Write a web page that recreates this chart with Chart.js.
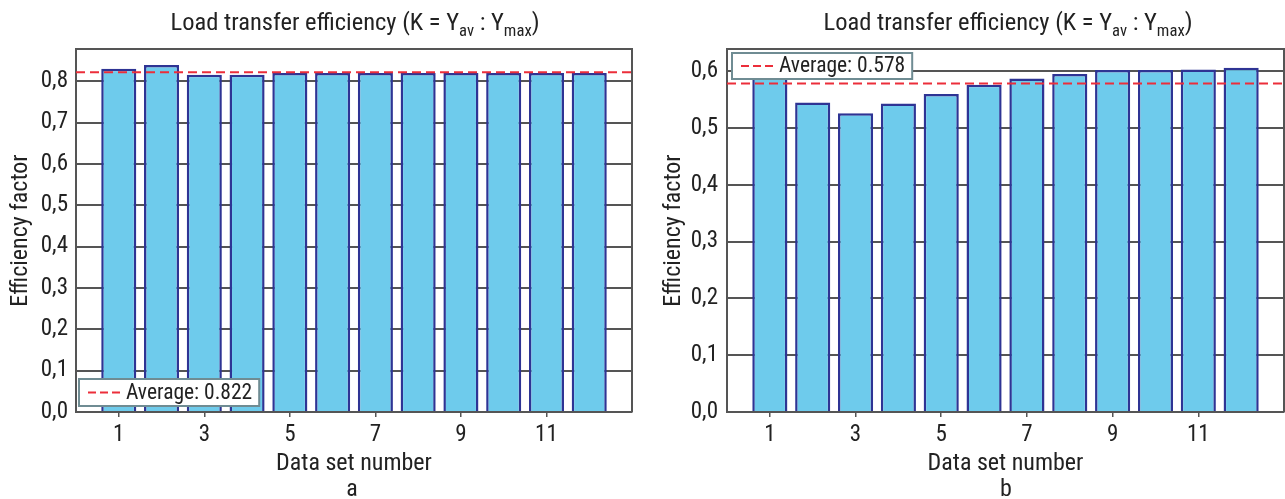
<!DOCTYPE html>
<html>
<head>
<meta charset="utf-8">
<script src="https://cdn.jsdelivr.net/npm/chart.js@4.4.1/dist/chart.umd.min.js"></script>
<style>
  html, body { margin: 0; padding: 0; background: #fff; }
  #wrap { position: relative; width: 1285px; height: 499px; overflow: hidden; }
  canvas { position: absolute; top: 0; }
  .title, .cap {
    position: absolute; transform: translateX(-50%); white-space: nowrap;
    font-family: 'Roboto Condensed', 'Liberation Sans Narrow', 'Arial Narrow', Roboto, sans-serif;
    color: #222;
  }
  .title { top: 7px; font-size: 24.5px; }
  .title sub { font-size: 0.68em; vertical-align: -0.35em; line-height: 0; }
  .cap { top: 474px; font-size: 24px; }
</style>
</head>
<body>
<div id="wrap">
  <canvas id="chartA" width="640" height="499" style="left:0"></canvas>
  <canvas id="chartB" width="645" height="499" style="left:640px"></canvas>
  <div class="title" style="left:355px">Load transfer efficiency (K = Y<sub>av</sub> : Y<sub>max</sub>)</div>
  <div class="title" style="left:1008px">Load transfer efficiency (K = Y<sub>av</sub> : Y<sub>max</sub>)</div>
  <div class="cap" style="left:352px">a</div>
  <div class="cap" style="left:1006px">b</div>
</div>
<script>
const FONT = "'Roboto Condensed', 'Liberation Sans Narrow', 'Arial Narrow', Roboto, sans-serif";
const TEXT = '#222';
const AXIS = '#555';

// data set numbers 1..12
const dataSetNumbers = [1, 2, 3, 4, 5, 6, 7, 8, 9, 10, 11, 12];
const xTickLabels = [1, 3, 5, 7, 9, 11];

// panel a
const efficiencyA = [0.830, 0.839, 0.816, 0.816, 0.820, 0.820, 0.820, 0.820, 0.820, 0.820, 0.820, 0.820];
const yTicksA = [0, 0.1, 0.2, 0.3, 0.4, 0.5, 0.6, 0.7, 0.8];
const yMaxA = 0.878;

// panel b (first bar sits under the legend box)
const efficiencyB = [0.596, 0.545, 0.526, 0.543, 0.560, 0.576, 0.587, 0.595, 0.602, 0.602, 0.603, 0.606];
const yTicksB = [0, 0.1, 0.2, 0.3, 0.4, 0.5, 0.6];
const yMaxB = 0.639;

function mean(arr) {
    return arr.reduce((a, b) => a + b, 0) / arr.length;
}

// box round the plot + legend box inside it
const frameLegendPlugin = {
    id: 'frameLegend',
    afterDatasetsDraw(chart, args, opts) {
        const ctx = chart.ctx;
        const a = chart.chartArea;
        ctx.save();
        ctx.strokeStyle = AXIS;
        ctx.lineWidth = 2;
        ctx.beginPath();
        ctx.moveTo(a.left, a.top);
        ctx.lineTo(a.right, a.top);
        ctx.lineTo(a.right, a.bottom);
        ctx.stroke();

        const avgSet = chart.data.datasets[1];
        ctx.font = '21.5px ' + FONT;
        const tw = ctx.measureText(avgSet.label).width;
        const w = 47 + tw + 7;
        const h = opts.h;
        const x = a.left + opts.dx;
        const y = opts.pos === 'top' ? a.top + opts.dy : a.bottom - opts.dy - h;
        ctx.fillStyle = '#fff';
        ctx.fillRect(x, y, w, h);
        ctx.strokeStyle = '#6f8c93';
        ctx.lineWidth = 2;
        ctx.strokeRect(x, y, w, h);
        ctx.strokeStyle = avgSet.borderColor;
        ctx.lineWidth = 2;
        ctx.setLineDash([8, 4]);
        ctx.beginPath();
        ctx.moveTo(x + 9, y + h / 2);
        ctx.lineTo(x + 41, y + h / 2);
        ctx.stroke();
        ctx.setLineDash([]);
        ctx.fillStyle = TEXT;
        ctx.textBaseline = 'middle';
        ctx.fillText(avgSet.label, x + 47, y + h / 2 + 1);
        ctx.restore();
    }
};

function makeChart(id, values, yTicks, yMax, lay) {
    const avg = mean(values);
    const ctx = document.getElementById(id).getContext('2d');
    return new Chart(ctx, {
        data: {
            datasets: [
                {
                    type: 'bar',
                    label: 'Efficiency',
                    data: dataSetNumbers.map((n, i) => ({ x: n, y: values[i] })),
                    backgroundColor: '#6ecbec',
                    borderColor: '#2e3494',
                    borderWidth: 2.5,
                    barPercentage: 0.82,
                    categoryPercentage: 1.0,
                    order: 1
                },
                {
                    type: 'line',
                    label: 'Average: ' + avg.toFixed(3),
                    data: [{ x: 0, y: avg }, { x: 13, y: avg }],
                    borderColor: '#ec2e3a',
                    borderWidth: 2,
                    borderDash: [9, 5],
                    pointRadius: 0,
                    order: 0
                }
            ]
        },
        options: {
            responsive: false,
            animation: false,
            layout: { padding: { top: 49, right: lay.right, left: 0, bottom: 0 } },
            plugins: {
                legend: { display: false },
                tooltip: { enabled: false },
                frameLegend: lay.legend
            },
            scales: {
                x: {
                    type: 'linear',
                    min: 0,
                    max: 13,
                    offset: false,
                    afterBuildTicks: (scale) => {
                        scale.ticks = xTickLabels.map(v => ({ value: v }));
                    },
                    afterFit: (scale) => { scale.height = 87; },
                    grid: { drawOnChartArea: false, offset: false, color: AXIS, lineWidth: 1.5, tickLength: 5 },
                    border: { color: AXIS, width: 2 },
                    ticks: {
                        color: TEXT,
                        font: { family: FONT, size: 23 },
                        padding: 4,
                        maxRotation: 0,
                        callback: v => String(v)
                    },
                    title: {
                        display: true,
                        text: 'Data set number',
                        color: TEXT,
                        font: { family: FONT, size: 24 },
                        padding: { top: 0, bottom: 21 }
                    }
                },
                y: {
                    min: 0,
                    max: yMax,
                    afterBuildTicks: (scale) => {
                        scale.ticks = yTicks.map(v => ({ value: v }));
                    },
                    afterFit: (scale) => { scale.width = lay.yWidth; },
                    grid: { color: AXIS, lineWidth: 2, drawTicks: false },
                    border: { color: AXIS, width: 2 },
                    ticks: {
                        color: TEXT,
                        font: { family: FONT, size: 23 },
                        padding: lay.tickPad,
                        callback: v => v.toFixed(1).replace('.', ',')
                    },
                    title: {
                        display: true,
                        text: 'Efficiency factor',
                        color: TEXT,
                        font: { family: FONT, size: 24 },
                        padding: { top: lay.titlePad, bottom: 0 }
                    }
                }
            }
        },
        plugins: [frameLegendPlugin]
    });
}

makeChart('chartA', efficiencyA, yTicksA, yMaxA, {
    right: 8, yWidth: 76, tickPad: 8, titlePad: 6.5,
    legend: { pos: 'bottom', dx: 3, dy: 6, h: 27 }
});
makeChart('chartB', efficiencyB, yTicksB, yMaxB, {
    right: 1, yWidth: 87, tickPad: 9, titlePad: 19.5,
    legend: { pos: 'top', dx: 5, dy: 4, h: 26 }
});
</script>
</body>
</html>
